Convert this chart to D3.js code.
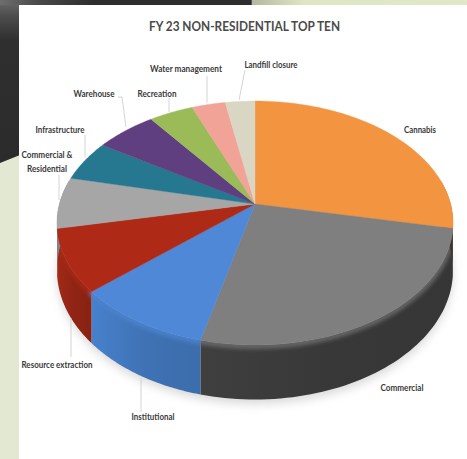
<!DOCTYPE html>
<html>
<head>
<meta charset="utf-8">
<script src="https://cdn.jsdelivr.net/npm/d3@7/dist/d3.min.js"></script>
<style>
html,body{margin:0;padding:0;background:#fff}
svg{display:block}
text{font-family:Lato,"Open Sans",sans-serif}
</style>
</head>
<body>
<svg id="chart" width="467" height="459"></svg>
<script>
// FY 23 non-residential permits, share of the top ten categories
const categories = ["Cannabis","Commercial","Institutional","Resource extraction","Commercial & Residential","Infrastructure","Warehouse","Recreation","Water management","Landfill closure"];
const shares = [28.2,25.6,9.7,8.3,6.8,5.4,5.8,4.2,3.2,2.8];
const topColors = ["#f29440","#7f7f7f","#4f88d6","#ae2a17","#a6a6a6","#25788f","#5f3f7f","#9bbb59","#f2a398","#d9d7c3"];
const sideColors = ["#a5642a","#383838","#3f72b4","#8f2414","#777777","#1c5a6b","#46305f","#73893f","#b57a72","#a3a192"];
const titleText = "FY 23 NON-RESIDENTIAL TOP TEN";

// Label layout, one entry per category
const labelLines = [["Cannabis"],["Commercial"],["Institutional"],["Resource extraction"],["Commercial &","Residential"],["Infrastructure"],["Warehouse"],["Recreation"],["Water management"],["Landfill closure"]];
const labelWidths = [[32],[43],[43],[71],[51,40],[49],[41],[39],[72],[53]];
const labelX = [420,402,153,57,47,60,94,157,186,271];
const labelY = [133,391,420,368,158,133,97,97,72,68];
const leaderPaths = [[],[],[[141,378],[141,412]],[[71,318],[71,357]],[[59,200],[59,175]],[[85,157],[85,135]],[[126,127],[122,97],[118,97]],[[169,112],[169,98]],[[207,103],[207,76]],[[239,100],[245,70]]];

const svg = d3.select("#chart");
const defs = svg.append("defs");

// Page backdrop: pale green sheet, charcoal sweep, white chart panel
const sweep = defs.append("linearGradient").attr("id","topSweep");
[[0,"#6e6e6e"],[0.08,"#4a4a4a"],[0.2,"#2d2d2d"],[0.538,"#2d2d2d"],[0.54,"#b4b89e"],[0.65,"#dfe6c4"],[1,"#e1e8c8"]]
  .forEach(([o,c]) => sweep.append("stop").attr("offset",o).attr("stop-color",c));
const smear = defs.append("linearGradient").attr("id","leftSmear").attr("x1",0).attr("y1",0).attr("x2",0).attr("y2",1);
[[0,"#6b6b6b"],[0.1,"#4c4c4c"],[0.25,"#2f2f2f"],[1,"#2b2b2b"]]
  .forEach(([o,c]) => smear.append("stop").attr("offset",o).attr("stop-color",c));

svg.append("rect").attr("width",467).attr("height",459).attr("fill","#e2e8d2");
svg.append("path").attr("d","M0,0H20V155L0,163Z").attr("fill","url(#leftSmear)");
svg.append("rect").attr("width",467).attr("height",5).attr("fill","url(#topSweep)");
svg.append("rect").attr("x",19).attr("y",5).attr("width",448).attr("height",454).attr("fill","#ffffff");

// Tilted-disc projection with a little perspective
const view = {cx:255, cy:204, radius:195.6, tilt:119, persp:0.156, depth:46};
const toScreen = (angle, drop) => {
  const X = Math.sin(angle), Y = -Math.cos(angle);
  const w = 1 - view.persp * Y;
  return [view.cx + view.radius * X / w, view.cy + (view.tilt * Y + drop) / w];
};

const arcs = d3.pie().sort(null).value(d => d)(shares);
const line = d3.line();
const rim = (a0, a1, drop) => d3.range(0, 61).map(i => toScreen(a0 + (a1 - a0) * i / 60, drop));

const blur = defs.append("filter").attr("id","soft").attr("x","-20%").attr("y","-20%").attr("width","140%").attr("height","140%");
blur.append("feGaussianBlur").attr("stdDeviation",5);
const bevelBlur = defs.append("filter").attr("id","bevel").attr("filterUnits","userSpaceOnUse").attr("x",0).attr("y",0).attr("width",467).attr("height",459);
bevelBlur.append("feGaussianBlur").attr("stdDeviation",2);

// Soft contact shadow under the disc
svg.append("path")
  .attr("d", line(rim(0, 2 * Math.PI, view.depth + 4)) + "Z")
  .attr("fill","#b5b5b5").attr("opacity",0.5).attr("filter","url(#soft)");

// Wall of the disc: only the arc that faces the viewer
const frontStart = Math.PI / 2 - 0.2, frontEnd = 3 * Math.PI / 2 + 0.2;
const visibleWall = a => [Math.max(a.startAngle, frontStart), Math.min(a.endAngle, frontEnd)];
const wallPath = (a0, a1) => line(rim(a0, a1, 0).concat(rim(a1, a0, view.depth))) + "Z";

defs.append("clipPath").attr("id","wallClip").append("path").attr("d", wallPath(frontStart, frontEnd));

const wall = svg.append("g");
arcs.forEach((a, i) => {
  const [a0, a1] = visibleWall(a);
  if (a1 <= a0) return;
  const g = defs.append("linearGradient").attr("id", "wall" + i);
  g.append("stop").attr("offset","0").attr("stop-color", d3.color(sideColors[i]).brighter(0.35));
  g.append("stop").attr("offset","0.5").attr("stop-color", sideColors[i]);
  g.append("stop").attr("offset","1").attr("stop-color", d3.color(sideColors[i]).darker(0.12));
  wall.append("path").attr("d", wallPath(a0, a1)).attr("fill", `url(#wall${i})`);
});

// Lit bevel just under the top edge of the wall
const bevelGroup = svg.append("g").attr("clip-path","url(#wallClip)").append("g").attr("filter","url(#bevel)");
arcs.forEach((a, i) => {
  const [a0, a1] = visibleWall(a);
  if (a1 <= a0) return;
  bevelGroup.append("path").attr("d", line(rim(a0, a1, 1)))
    .attr("fill","none").attr("stroke-width",5)
    .attr("stroke", d3.interpolateRgb(topColors[i], sideColors[i])(0.25));
});

// Top face slices
svg.append("g").selectAll("path").data(arcs).join("path")
  .attr("d", a => line([[view.cx, view.cy]].concat(rim(a.startAngle, a.endAngle, 0))) + "Z")
  .attr("fill", (a, i) => topColors[i])
  .attr("stroke", (a, i) => topColors[i]).attr("stroke-width",0.4);

// Leader lines and labels
svg.append("g").selectAll("path").data(leaderPaths.filter(d => d.length)).join("path")
  .attr("d", d => line(d)).attr("fill","none").attr("stroke","#c9c9c9").attr("stroke-width",0.8);

const labels = svg.append("g").attr("font-size",9.2).attr("fill","#3a3a3a").attr("font-weight",700).attr("text-anchor","middle");
labelLines.forEach((lines, i) => {
  lines.forEach((t, j) => labels.append("text")
    .attr("x",labelX[i]).attr("y",labelY[i] + j * 14)
    .attr("textLength",labelWidths[i][j]).attr("lengthAdjust","spacingAndGlyphs")
    .text(t));
});

svg.append("text").attr("x",244.5).attr("y",31).attr("text-anchor","middle")
  .attr("font-size",12.4).attr("fill","#4a4a4a").attr("font-weight",700)
  .attr("textLength",191).attr("lengthAdjust","spacingAndGlyphs").text(titleText);
</script>
</body>
</html>
